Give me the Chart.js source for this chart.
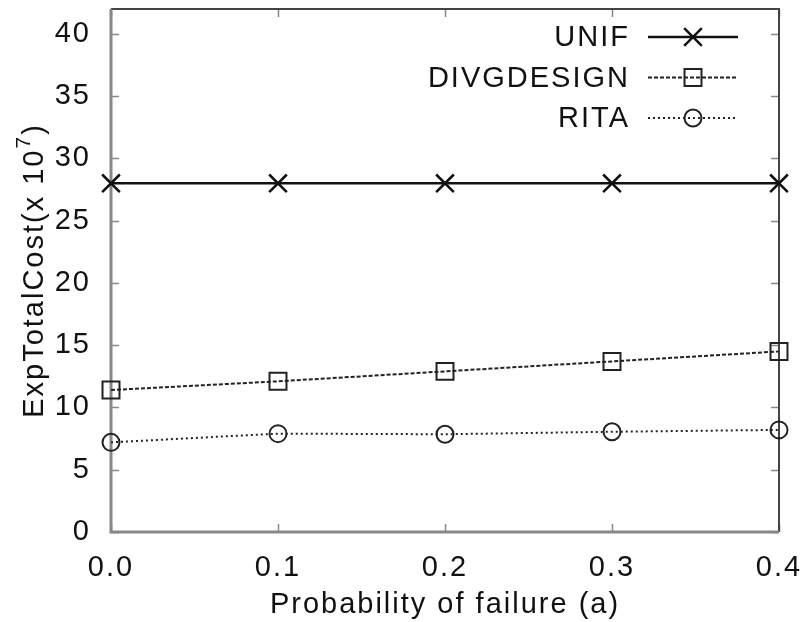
<!DOCTYPE html>
<html>
<head>
<meta charset="utf-8">
<script src="https://cdn.jsdelivr.net/npm/chart.js@4/dist/chart.umd.min.js"></script>
<style>
  html, body { margin: 0; padding: 0; background: #fff; }
  #wrap { width: 806px; height: 622px; }
</style>
</head>
<body>
<div id="wrap"><canvas id="costChart" width="806" height="622" aria-label="Expected total cost chart"></canvas></div>
<script>
// values
const failureProb = ['0.0', '0.1', '0.2', '0.3', '0.4'];
const unifCost = [28, 28, 28, 28, 28];
const divgDesignCost = [11.4, 12.1, 12.9, 13.7, 14.5];
const ritaCost = [7.2, 7.9, 7.85, 8.05, 8.2];
const seriesNames = ['UNIF', 'DIVGDESIGN', 'RITA'];

const FONT = '"Liberation Sans", Arial, Helvetica, sans-serif';
const FONT_SIZE = 29;

// small marker painter for the legend (same shapes as the chart points)
function drawMarker(ctx, style, r, x, y) {
  ctx.beginPath();
  if (style === 'crossRot') {
    const d = r * Math.SQRT1_2;
    ctx.moveTo(x - d, y - d); ctx.lineTo(x + d, y + d);
    ctx.moveTo(x - d, y + d); ctx.lineTo(x + d, y - d);
  } else if (style === 'rect') {
    const s = r * Math.SQRT1_2;
    ctx.rect(x - s, y - s, 2 * s, 2 * s);
  } else {
    ctx.arc(x, y, r, 0, Math.PI * 2);
  }
  ctx.stroke();
}

// no extra room for overhanging tick labels
function noLabelPadding(scale) {
  scale.paddingLeft = 0;
  scale.paddingRight = 0;
  scale.paddingTop = 0;
  scale.paddingBottom = 0;
}

const gnuplotLook = {
  id: 'gnuplotLook',
  beforeUpdate(chart) { chart.ctx.letterSpacing = '2px'; },
  beforeDraw(chart) { chart.ctx.letterSpacing = '2px'; },
  beforeDatasetsDraw(chart) {
    const {ctx, chartArea: a, scales: {x, y}} = chart;
    ctx.save();
    ctx.setLineDash([]);
    // inward ticks, mirrored on top and right
    ctx.strokeStyle = '#888';
    ctx.lineWidth = 1.5;
    ctx.beginPath();
    y.ticks.forEach((t, i) => {
      const py = Math.round(y.getPixelForTick(i)) + 0.5;
      ctx.moveTo(a.left, py); ctx.lineTo(a.left + 8, py);
      ctx.moveTo(a.right - 8, py); ctx.lineTo(a.right, py);
    });
    x.ticks.forEach((t, i) => {
      const px = Math.round(x.getPixelForTick(i)) + 0.5;
      ctx.moveTo(px, a.bottom); ctx.lineTo(px, a.bottom - 8);
      ctx.moveTo(px, a.top); ctx.lineTo(px, a.top + 8);
    });
    ctx.stroke();
    // frame
    ctx.strokeStyle = '#444';
    ctx.lineWidth = 2;
    ctx.beginPath();
    ctx.moveTo(a.left, a.top); ctx.lineTo(a.right, a.top); ctx.lineTo(a.right, a.bottom);
    ctx.stroke();
    ctx.strokeStyle = '#888';
    ctx.lineWidth = 3;
    ctx.beginPath();
    ctx.moveTo(a.left, a.top); ctx.lineTo(a.left, a.bottom); ctx.lineTo(a.right, a.bottom);
    ctx.stroke();
    ctx.restore();
  },
  afterDraw(chart) {
    const {ctx, chartArea: a} = chart;
    ctx.save();
    ctx.fillStyle = '#111';
    ctx.font = `${FONT_SIZE}px ${FONT}`;

    // legend, top right: label then line sample with marker
    chart.data.datasets.forEach((ds, i) => {
      const rowY = 37 + i * 40.5;
      ctx.textAlign = 'right';
      ctx.textBaseline = 'middle';
      ctx.fillText(ds.label, 630, rowY + 1);
      ctx.strokeStyle = ds.borderColor;
      ctx.lineWidth = ds.borderWidth;
      ctx.setLineDash(ds.borderDash || []);
      ctx.beginPath();
      ctx.moveTo(648, rowY); ctx.lineTo(738, rowY);
      ctx.stroke();
      ctx.setLineDash([]);
      ctx.lineWidth = ds.pointBorderWidth;
      drawMarker(ctx, ds.pointStyle, ds.pointRadius, 693, rowY);
    });

    // x axis title
    ctx.textAlign = 'center';
    ctx.textBaseline = 'alphabetic';
    ctx.fillText('Probability of failure (a)', (a.left + a.right) / 2, 613);

    // y axis title with superscript
    const main = 'ExpTotalCost(x 10', sup = '7', close = ')';
    const supFont = `21px ${FONT}`, mainFont = `${FONT_SIZE}px ${FONT}`;
    ctx.font = mainFont;
    const w1 = ctx.measureText(main).width, w3 = ctx.measureText(close).width;
    ctx.font = supFont;
    const w2 = ctx.measureText(sup).width;
    ctx.translate(43, (a.top + a.bottom) / 2);
    ctx.rotate(-Math.PI / 2);
    ctx.textAlign = 'left';
    let cx = -(w1 + w2 + w3) / 2;
    ctx.font = mainFont;
    ctx.fillText(main, cx, 0); cx += w1;
    ctx.font = supFont;
    ctx.fillText(sup, cx, -13); cx += w2;
    ctx.font = mainFont;
    ctx.fillText(close, cx, 0);
    ctx.restore();
  }
};

const ctx = document.getElementById('costChart');
new Chart(ctx, {
  type: 'line',
  data: {
    labels: failureProb,
    datasets: [
      {
        label: seriesNames[0],
        data: unifCost,
        borderColor: '#111',
        borderWidth: 2.5,
        pointStyle: 'crossRot',
        pointRadius: 12.5,
        pointBorderWidth: 2.5,
        pointBorderColor: '#111',
        pointBackgroundColor: 'rgba(0,0,0,0)',
      },
      {
        label: seriesNames[1],
        data: divgDesignCost,
        borderColor: '#222',
        borderWidth: 2,
        borderDash: [4, 2],
        pointStyle: 'rect',
        pointRadius: 12,
        pointBorderWidth: 2,
        pointBorderColor: '#222',
        pointBackgroundColor: 'rgba(0,0,0,0)',
      },
      {
        label: seriesNames[2],
        data: ritaCost,
        borderColor: '#222',
        borderWidth: 2,
        borderDash: [2, 3],
        pointStyle: 'circle',
        pointRadius: 8.5,
        pointBorderWidth: 2,
        pointBorderColor: '#222',
        pointBackgroundColor: 'rgba(0,0,0,0)',
      },
    ]
  },
  options: {
    responsive: false,
    animation: false,
    devicePixelRatio: 1,
    clip: false,
    layout: { autoPadding: false, padding: { left: 0, right: 27, top: 9, bottom: 0 } },
    plugins: {
      legend: { display: false },
      tooltip: { enabled: false },
    },
    elements: { line: { tension: 0 } },
    scales: {
      x: {
        type: 'category',
        offset: false,
        grid: { display: false, drawTicks: false },
        border: { display: false },
        ticks: {
          color: '#111',
          font: { family: FONT, size: FONT_SIZE },
          padding: 19,
          maxRotation: 0,
          autoSkip: false,
        },
        afterFit: (scale) => { scale.height = 90; noLabelPadding(scale); },
      },
      y: {
        min: 0,
        max: 42,
        grid: { display: false, drawTicks: false },
        border: { display: false },
        ticks: {
          stepSize: 5,
          includeBounds: false,
          color: '#111',
          font: { family: FONT, size: FONT_SIZE },
          padding: 20,
        },
        afterFit: (scale) => { scale.width = 111; noLabelPadding(scale); },
      },
    }
  },
  plugins: [gnuplotLook]
});
</script>
</body>
</html>
